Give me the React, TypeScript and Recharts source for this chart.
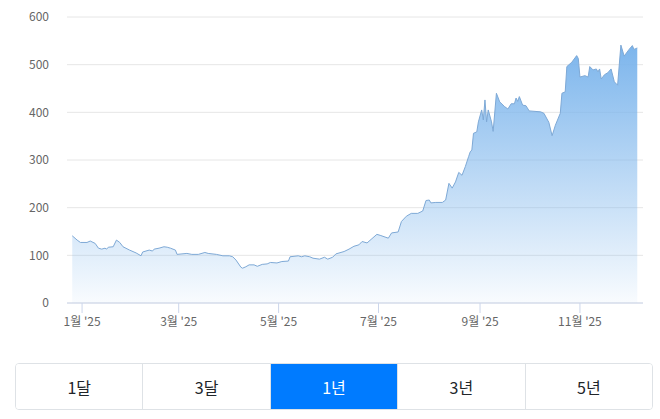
import React from 'react';
import { AreaChart, Area, XAxis, YAxis, CartesianGrid } from 'recharts';

// days since 2025-01-01
const dayOffsets = [
  -6, -3, -1, 3, 5, 8, 10, 12, 14, 15,
  16, 19, 21, 23, 25, 29, 33, 36, 37, 41,
  43, 44, 47, 50, 52, 54, 57, 58, 61, 64,
  67, 71, 75, 77, 82, 86, 90, 92, 94, 97,
  98, 100, 102, 105, 107, 110, 113, 115, 119, 122,
  126, 127, 132, 134, 136, 139, 141, 145, 148, 150,
  153, 155, 160, 163, 166, 169, 171, 174, 177, 180,
  182, 187, 189, 193, 195, 198, 201, 205, 208, 210,
  212, 213, 216, 220, 222, 224, 226, 228, 230, 232,
  234, 236, 237, 238, 239, 241, 242, 244, 245, 246,
  247, 248, 250, 251, 253, 255, 258, 260, 262, 264,
  265, 266, 267, 269, 271, 273, 280, 282, 285, 287,
  289, 292, 293, 295, 296, 299, 302, 303, 304, 307,
  309, 310, 312, 314, 315, 316, 317, 319, 321, 323,
  325, 327, 329, 331, 334, 336, 337, 339,
];

const prices = [
  141, 132, 127, 127, 130, 125, 115, 113, 115, 113,
  117, 118, 132, 127, 118, 111, 105, 99, 107, 111,
  109, 113, 115, 118, 117, 115, 111, 102, 103, 104,
  102, 102, 106, 104, 102, 99, 99, 97, 90, 75,
  73, 76, 80, 80, 77, 81, 82, 85, 84, 87,
  88, 97, 99, 97, 99, 97, 94, 92, 96, 92,
  96, 103, 108, 113, 119, 122, 129, 126, 135, 144,
  142, 136, 147, 149, 171, 182, 188, 188, 193, 215,
  216, 210, 211, 211, 216, 251, 241, 254, 274, 268,
  286, 307, 317, 321, 356, 359, 380, 405, 384, 426,
  380, 405, 380, 360, 440, 422, 412, 407, 418, 418,
  430, 423, 433, 415, 414, 403, 401, 398, 379, 351,
  373, 398, 440, 443, 496, 505, 519, 513, 474, 477,
  474, 496, 489, 491, 485, 491, 470, 479, 483, 491,
  464, 457, 541, 518, 532, 540, 532, 535,
];

const monthTickDays = [0, 59, 120, 181, 243, 304];
const monthTickLabels = ["1월 '25", "3월 '25", "5월 '25", "7월 '25", "9월 '25", "11월 '25"];
const yTicks = [0, 100, 200, 300, 400, 500, 600];
const rangeButtons = ['1달', '3달', '1년', '3년', '5년'];
const selectedRange = '1년';

const data = dayOffsets.map((d, i) => ({ day: d, price: prices[i] }));

const FONT = '"Noto Sans CJK KR", "Noto Sans", sans-serif';

export default function App() {
  return (
    <div style={{ position: 'absolute', left: 0, top: 0, width: 660, height: 419, background: '#fff', fontFamily: FONT }}>
      <AreaChart width={660} height={340} data={data} margin={{ top: 17, right: 17, left: 0, bottom: 0 }}>
        <defs>
          <linearGradient id="fillGrad" x1="0" y1="0" x2="0" y2="1">
            <stop offset="0%" stopColor="#7cb5ec" stopOpacity={1} />
            <stop offset="100%" stopColor="#7cb5ec" stopOpacity={0.05} />
          </linearGradient>
        </defs>
        <CartesianGrid vertical={false} stroke="#e6e6e6" />
        <XAxis
          type="number"
          dataKey="day"
          domain={[-9.2, 342.5]}
          ticks={monthTickDays}
          tickFormatter={(v) => monthTickLabels[monthTickDays.indexOf(v)] ?? ''}
          axisLine={{ stroke: '#ccd6eb' }}
          tickLine={{ stroke: '#ccd6eb' }}
          tickSize={10}
          tickMargin={4}
          height={37}
          interval={0}
          tick={{ fontSize: 12, fill: '#666', fontFamily: FONT }}
        />
        <YAxis
          domain={[0, 600]}
          ticks={yTicks}
          axisLine={false}
          tickLine={false}
          tickSize={0}
          tickMargin={18}
          width={67}
          tick={{ fontSize: 12, fill: '#666', fontFamily: FONT }}
        />
        <Area
          type="linear"
          dataKey="price"
          stroke="#7ea9d6"
          strokeWidth={1}
          fill="url(#fillGrad)"
          fillOpacity={1}
          dot={false}
          activeDot={false}
          isAnimationActive={false}
        />
      </AreaChart>
      <div
        style={{
          position: 'absolute',
          left: 15,
          top: 363,
          width: 638,
          height: 47,
          display: 'flex',
          border: '1px solid #dee2e6',
          borderRadius: 4,
          boxSizing: 'border-box',
          overflow: 'hidden',
        }}
      >
        {rangeButtons.map((b, i) => {
          const sel = b === selectedRange;
          return (
            <div
              key={b}
              style={{
                flex: 1,
                display: 'flex',
                alignItems: 'center',
                justifyContent: 'center',
                fontSize: 16,
                color: sel ? '#fff' : '#212529',
                background: sel ? '#007bff' : '#fff',
                borderLeft: i === 0 ? 'none' : '1px solid #dee2e6',
              }}
            >
              {b}
            </div>
          );
        })}
      </div>
    </div>
  );
}
